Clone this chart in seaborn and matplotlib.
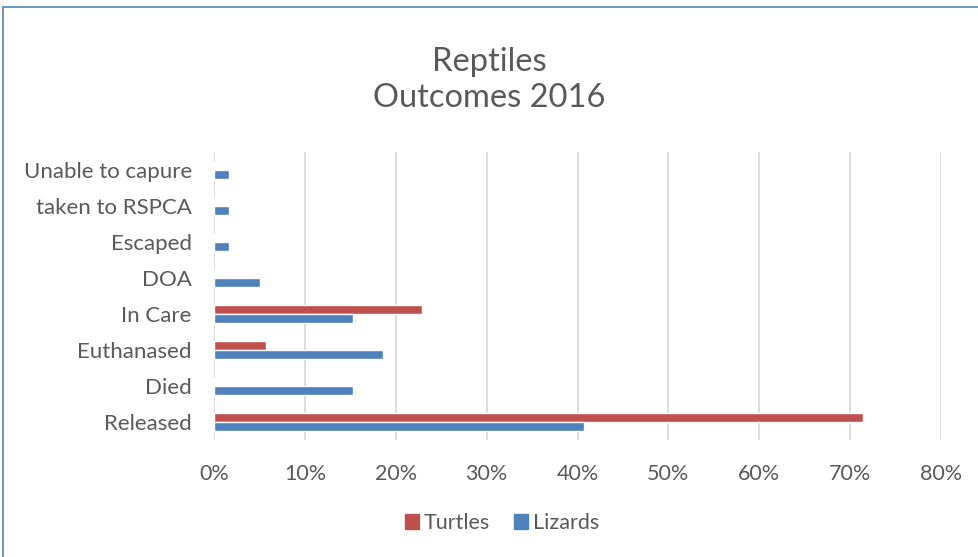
import matplotlib
matplotlib.use("Agg")
import matplotlib.pyplot as plt
import matplotlib.patches as mpatches
import pandas as pd
import seaborn as sns

# outcome categories, top to bottom
outcomes = ["Unable to capure", "taken to RSPCA", "Escaped", "DOA",
            "In Care", "Euthanased", "Died", "Released"]
# share of animals per outcome
turtles = [0.0, 0.0, 0.0, 0.0, 0.2286, 0.0571, 0.0, 0.7143]
lizards = [0.0169, 0.0169, 0.0169, 0.0508, 0.1525, 0.1864, 0.1525, 0.4068]
x_ticks = [0.0, 0.1, 0.2, 0.3, 0.4, 0.5, 0.6, 0.7, 0.8]

df = pd.DataFrame({
    "outcome": outcomes * 2,
    "species": ["Turtles"] * len(outcomes) + ["Lizards"] * len(outcomes),
    "share": turtles + lizards,
})

sns.set_theme(style="white")
plt.rcParams["font.family"] = ["Lato", "DejaVu Sans"]

fig = plt.figure(figsize=(9.79, 5.57), dpi=100)
ax = fig.add_axes([214 / 979, 1 - 440 / 557, (941 - 214) / 979, (440 - 152) / 557])

sns.barplot(data=df, y="outcome", x="share", hue="species", order=outcomes,
            hue_order=["Turtles", "Lizards"],
            palette={"Turtles": "#C0504D", "Lizards": "#4F81BD"},
            orient="h", width=0.52, ax=ax, legend=False, saturation=1)

ax.set_xlim(0, 0.8)
ax.set_xticks(x_ticks)
ax.set_xticklabels([f"{int(round(t * 100))}%" for t in x_ticks])
ax.xaxis.grid(True, color="#D9D9D9", linewidth=1.3)
ax.set_axisbelow(True)
ax.set_xlabel("")
ax.set_ylabel("")
for s in ax.spines.values():
    s.set_visible(False)
ax.tick_params(axis="x", labelsize=15.5, colors="#595959", pad=17, length=0)
ax.tick_params(axis="y", labelsize=16, colors="#595959", pad=16, length=0)

fig.text(0.5, 1 - 80 / 557, "Reptiles\nOutcomes 2016", ha="center", va="center",
         fontsize=23.5, color="#595959", linespacing=1.25)

handles = [mpatches.Patch(color="#C0504D", label="Turtles"),
           mpatches.Patch(color="#4F81BD", label="Lizards")]
fig.legend(handles=handles, loc="center", bbox_to_anchor=(502 / 979, 1 - 523 / 557),
           ncol=2, frameon=False, fontsize=15.5, handlelength=0.65, handleheight=0.65,
           columnspacing=1.1, handletextpad=0.25, labelcolor="#595959")

# chart border
fig.patches.append(mpatches.Rectangle((3 / 979, -0.05), 1.1, 1 - 7 / 557 + 0.05,
                                      transform=fig.transFigure, fill=False,
                                      edgecolor="#4F81BD", linewidth=1.2))

fig.savefig("out.png", dpi=100)
